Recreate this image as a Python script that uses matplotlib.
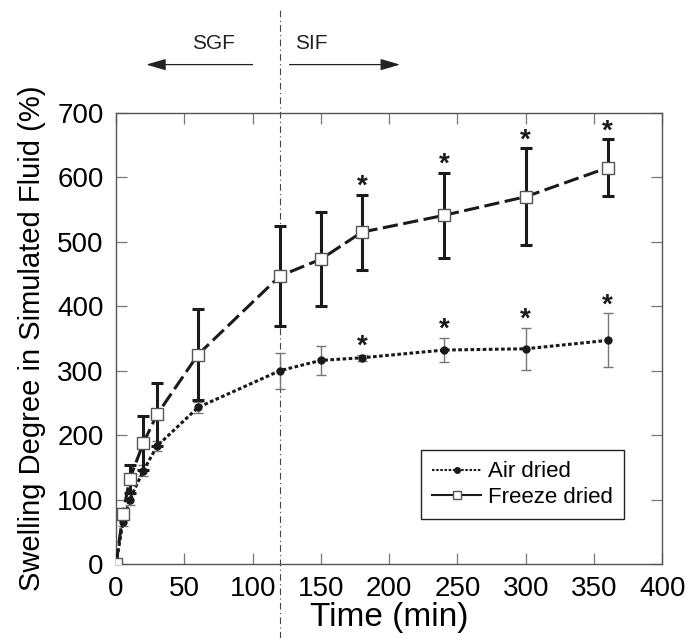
import numpy as np
import matplotlib.pyplot as plt
from matplotlib.lines import Line2D

plt.rcParams['font.family'] = ['Liberation Sans', 'DejaVu Sans']

# Data.
time = [0, 5, 10, 20, 30, 60, 120, 150, 180, 240, 300, 360]
airDried = [0, 65, 100, 145, 183, 243, 300, 316, 320, 332, 334, 347]
airErr = [0, 6, 8, 8, 8, 8, 28, 22, 5, 19, 33, 42]
freezeDried = [0, 78, 132, 188, 232, 325, 447, 473, 515, 541, 570, 615]
freezeErr = [0, 8, 22, 42, 49, 70, 78, 73, 58, 66, 75, 44]
starTimes = [180, 240, 300, 360]

fig = plt.figure(figsize=(6.87, 6.38), dpi=100)
ax = fig.add_axes([0.169, 0.116, 0.795, 0.707])

# Air dried.
ax.errorbar(time, airDried, yerr=airErr, fmt='none', ecolor='#777777',
            elinewidth=1.0, capsize=3.5, capthick=1.0, zorder=2)
ax.plot(time, airDried, color='#1a1a1a', linestyle=(0, (1.2, 0.8)), lw=2.2,
        marker='o', ms=5, mfc='#1a1a1a', mec='#1a1a1a', zorder=3)

# Freeze dried.
ax.errorbar(time, freezeDried, yerr=freezeErr, fmt='none', ecolor='#1a1a1a',
            elinewidth=2.2, capsize=4, capthick=2.2, zorder=2)
ax.plot(time, freezeDried, color='#1a1a1a', linestyle=(0, (5, 1.8)), lw=2.2,
        marker='s', ms=8, mfc='white', mec='#555555', mew=1.0, zorder=4)

# Significance stars.
for t in starTimes:
  i = time.index(t)
  ax.text(t, airDried[i] + airErr[i] - 8, '*', ha='center', va='bottom',
          fontsize=20, fontweight='bold', color='#1a1a1a')
  ax.text(t, freezeDried[i] + freezeErr[i] - 8, '*', ha='center', va='bottom',
          fontsize=20, fontweight='bold', color='#1a1a1a')

# SGF / SIF boundary.
ax.plot([120, 120], [-115, 860], color='#444444', lw=0.8,
        linestyle=(0, (6, 3, 1, 3)), clip_on=False, zorder=1)
ax.annotate('', xy=(20, 775), xytext=(102, 775), annotation_clip=False,
            arrowprops=dict(arrowstyle='-|>,head_length=1.2,head_width=0.35',
                            color='#222222', lw=0.9))
ax.annotate('', xy=(210, 775), xytext=(125, 775), annotation_clip=False,
            arrowprops=dict(arrowstyle='-|>,head_length=1.2,head_width=0.35',
                            color='#222222', lw=0.9))
ax.text(71, 793, 'SGF', ha='center', va='bottom', fontsize=15, color='#222222')
ax.text(143, 793, 'SIF', ha='center', va='bottom', fontsize=15, color='#222222')

# Axes setup.
ax.set_xlim(0, 400)
ax.set_ylim(0, 700)
ax.set_xticks(np.arange(0, 401, 50))
ax.set_yticks(np.arange(0, 701, 100))
ax.tick_params(direction='in', length=8, width=0.9, color='#777777',
               top=True, right=True, labelsize=20, pad=9)
for s in ax.spines.values():
  s.set_color('#555555')
  s.set_linewidth(1.0)
ax.set_xlabel('Time (min)', fontsize=24, labelpad=0)
ax.set_ylabel('Swelling Degree in Simulated Fluid (%)', fontsize=21, labelpad=8)

# Legend.
handles = [Line2D([], [], color='#1a1a1a', linestyle=(0, (1.2, 0.8)), lw=1.5,
                  marker='o', ms=4),
           Line2D([], [], color='#1a1a1a', lw=1.5, marker='s', ms=6,
                  mfc='white', mec='#555555')]
leg = ax.legend(handles, ['Air dried', 'Freeze dried'], loc='lower right',
                bbox_to_anchor=(0.95, 0.075), fontsize=16, fancybox=False,
                framealpha=1, edgecolor='#222222', handlelength=2.2,
                handletextpad=0.3, borderpad=0.5, labelspacing=0.2)
leg.get_frame().set_linewidth(1.0)

fig.savefig('out.png', dpi=100)
